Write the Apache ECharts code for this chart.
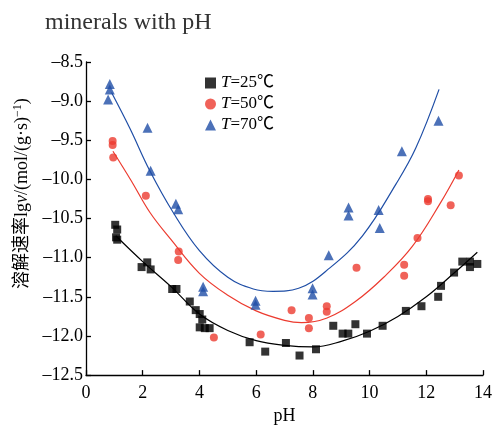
<!DOCTYPE html>
<html>
<head>
<meta charset="utf-8">
<script src="https://cdn.jsdelivr.net/npm/echarts@6/dist/echarts.min.js"></script>
<style>html,body{margin:0;padding:0;background:#fff;}#c{width:495px;height:430px;}</style>
</head>
<body>
<div id="c"></div>
<script>
// ---- data ----
var titleText = 'minerals with pH';
var seriesNames = ['T=25℃', 'T=50℃', 'T=70℃'];

var blackPH = [1.03,1.10,1.06,1.10,1.96,2.16,2.28,3.04,3.19,3.66,3.87,4.01,4.10,4.01,4.19,4.36,5.77,6.32,7.05,7.53,8.11,8.72,9.05,9.25,9.50,9.91,10.46,11.28,11.83,12.42,12.52,12.98,13.27,13.54,13.54,13.80];
var blackLg = [-10.58,-10.64,-10.74,-10.77,-11.12,-11.06,-11.15,-11.40,-11.40,-11.56,-11.67,-11.72,-11.79,-11.89,-11.90,-11.90,-12.08,-12.20,-12.09,-12.25,-12.17,-11.87,-11.97,-11.97,-11.85,-11.97,-11.87,-11.68,-11.62,-11.50,-11.36,-11.19,-11.05,-11.05,-11.12,-11.08];

var redPH = [0.94,0.94,0.96,2.11,3.27,3.25,4.51,6.16,7.25,7.86,7.86,8.49,8.49,9.54,11.22,11.22,11.69,12.06,12.06,12.86,13.15];
var redLg = [-9.51,-9.56,-9.72,-10.21,-10.92,-11.03,-12.02,-11.98,-11.67,-11.77,-11.90,-11.62,-11.69,-11.13,-11.09,-11.23,-10.75,-10.25,-10.28,-10.33,-9.95];

var bluePH = [0.84,0.84,0.78,2.17,2.28,3.17,3.25,4.13,4.13,5.98,5.98,7.99,7.99,8.56,9.26,9.26,10.32,10.36,11.14,12.43];
var blueLg = [-8.78,-8.85,-8.98,-9.34,-9.89,-10.31,-10.38,-11.37,-11.43,-11.55,-11.60,-11.39,-11.47,-10.97,-10.36,-10.46,-10.39,-10.62,-9.64,-9.25];

var blackFitPH = [1.05,2.0,3.0,4.0,5.0,6.0,7.0,8.0,9.0,10.0,11.0,12.0,13.0,13.8];
var blackFitLg = [-10.72,-11.05,-11.37,-11.72,-11.93,-12.06,-12.12,-12.14,-12.07,-11.94,-11.75,-11.50,-11.19,-10.93];

var redFitPH = [0.95,1.6,2.25,3.0,4.0,5.0,6.0,7.0,7.6,8.5,9.5,10.5,11.5,12.5,13.15];
var redFitLg = [-9.64,-10.02,-10.42,-10.77,-11.20,-11.48,-11.68,-11.80,-11.83,-11.77,-11.56,-11.25,-10.86,-10.30,-9.88];

var blueFitPH = [0.9,1.55,2.25,3.07,4.0,5.0,5.9,6.6,7.5,8.6,9.75,10.93,11.63,12.45];
var blueFitLg = [-8.89,-9.35,-9.89,-10.42,-10.91,-11.25,-11.40,-11.43,-11.39,-11.13,-10.72,-10.06,-9.60,-8.85];

var xTicks = [0,2,4,6,8,10,12,14];
var yTicks = [-12.5,-12.0,-11.5,-11.0,-10.5,-10.0,-9.5,-9.0,-8.5];

function zip(a, b) { return a.map(function (v, i) { return [v, b[i]]; }); }

var serif = '"Liberation Serif", "Times New Roman", serif';
var chart = echarts.init(document.getElementById('c'), null, {renderer: 'canvas'});

var cBlack = '#000000', cRed = '#ec3b2f', cBlue = '#1f4ea6';

chart.setOption({
  animation: false,
  backgroundColor: '#fff',
  title: {
    text: titleText, left: 40, top: 6,
    textStyle: {fontFamily: serif, fontSize: 24, fontWeight: 'normal', color: '#333'}
  },
  legend: {
    data: seriesNames,
    orient: 'vertical',
    left: 200, top: 69,
    itemWidth: 11, itemHeight: 11, itemGap: 3,
    textStyle: {
      fontFamily: serif + ', "Noto Sans CJK SC"', fontSize: 17, color: '#000', lineHeight: 18,
      rich: {i: {fontFamily: serif, fontStyle: 'italic', fontSize: 17, color: '#000'}}
    },
    formatter: function (name) { return '{i|T}' + name.slice(1); }
  },
  grid: {left: 86, top: 62, width: 398, height: 320},
  xAxis: {
    type: 'value', min: xTicks[0], max: xTicks[xTicks.length - 1], interval: 2,
    name: 'pH', nameLocation: 'middle', nameGap: 30,
    nameTextStyle: {fontFamily: serif, fontSize: 18, color: '#000'},
    axisLine: {lineStyle: {color: '#000', width: 1.3}},
    axisTick: {inside: true, length: 5, lineStyle: {color: '#000', width: 1.3}},
    axisLabel: {fontFamily: serif, fontSize: 18, color: '#000', margin: 9},
    splitLine: {show: false}
  },
  yAxis: {
    type: 'value', min: yTicks[0], max: yTicks[yTicks.length - 1], interval: 0.5,
    name: '溶解速率lg{i|v}/(mol/(g·s){sup|−1})', nameLocation: 'middle', nameGap: 52,
    nameTextStyle: {
      fontFamily: serif + ', "Noto Sans CJK SC"', fontSize: 18, color: '#000',
      padding: [0, 0, 0, 50],
      rich: {
        i: {fontFamily: serif, fontStyle: 'italic', fontSize: 18, color: '#000'},
        sup: {fontFamily: serif, fontSize: 12, color: '#000', padding: [0, 0, 10, 0]}
      }
    },
    axisLine: {show: true, lineStyle: {color: '#000', width: 1.3}},
    axisTick: {show: true, inside: true, length: 5, lineStyle: {color: '#000', width: 1.3}},
    axisLabel: {
      fontFamily: serif, fontSize: 18, color: '#000', margin: 3,
      formatter: function (v) { return (v < 0 ? '–' : '') + Math.abs(v).toFixed(1); }
    },
    splitLine: {show: false}
  },
  series: [
    {name: seriesNames[0], type: 'scatter', symbol: 'rect', symbolSize: 8, itemStyle: {color: cBlack}, data: zip(blackPH, blackLg), z: 3},
    {name: seriesNames[1], type: 'scatter', symbol: 'circle', symbolSize: 8, itemStyle: {color: cRed}, data: zip(redPH, redLg), z: 3},
    {name: seriesNames[2], type: 'scatter', symbol: 'triangle', symbolSize: 10, itemStyle: {color: cBlue}, data: zip(bluePH, blueLg), z: 3},
    {name: 'fit25', type: 'line', smooth: 0.4, showSymbol: false, lineStyle: {color: cBlack, width: 1.2}, data: zip(blackFitPH, blackFitLg), z: 2},
    {name: 'fit50', type: 'line', smooth: 0.4, showSymbol: false, lineStyle: {color: cRed, width: 1.2}, data: zip(redFitPH, redFitLg), z: 2},
    {name: 'fit70', type: 'line', smooth: 0.4, showSymbol: false, lineStyle: {color: cBlue, width: 1.2}, data: zip(blueFitPH, blueFitLg), z: 2}
  ]
});
</script>
</body>
</html>
